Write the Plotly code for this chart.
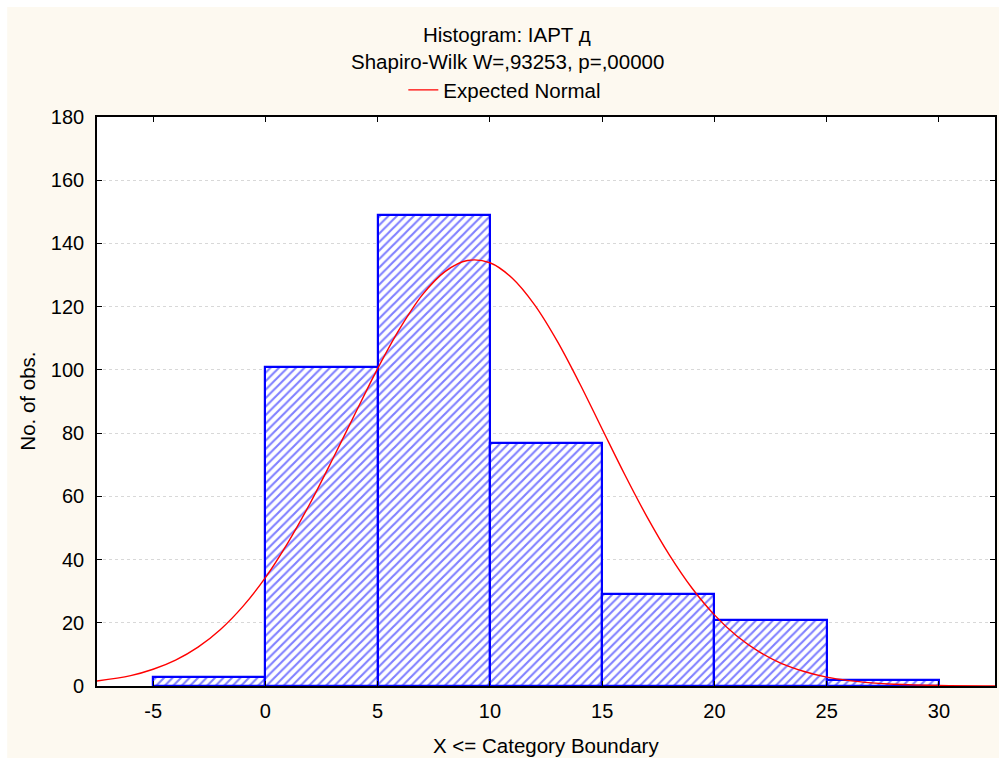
import plotly.graph_objects as go

# ---- data ----
bin_left = [-5, 0, 5, 10, 15, 20, 25]
bin_width = 5
counts = [3, 101, 149, 77, 29, 21, 2]

curve_x = [-7.5, -6, -5, -4, -3, -2, -1, 0, 1, 2, 3, 4, 5, 6, 7, 8, 9, 10, 11, 12,
           13, 14, 15, 16, 17, 18, 19, 20, 21, 22, 23, 24, 25, 26, 27, 28, 30, 32.5]
curve_y = [1.6, 3.3, 5.3, 8.2, 12.3, 17.9, 25.2, 34.3, 45.3, 57.9, 71.8, 86.2, 100.4,
           113.2, 123.8, 131.1, 134.6, 133.9, 129.0, 120.5, 109.1, 95.7, 81.3, 67.0,
           53.5, 41.4, 31.0, 22.5, 15.8, 10.8, 7.1, 4.6, 2.8, 1.7, 1.0, 0.56, 0.16, 0.03]

x_ticks = [-5, 0, 5, 10, 15, 20, 25, 30]
y_ticks = [0, 20, 40, 60, 80, 100, 120, 140, 160, 180]

title = "Histogram: IAPT д"
subtitle = "Shapiro-Wilk W=,93253, p=,00000"
x_title = "X <= Category Boundary"
y_title = "No. of obs."

FONT = "Liberation Sans, Arial, sans-serif"
CREAM = "#FDF9F0"
TXT = 20.5
TICK = 20

centers = [b + bin_width / 2 for b in bin_left]

fig = go.Figure()
fig.add_trace(go.Bar(
    x=centers, y=counts, width=bin_width,
    marker=dict(color="white",
                line=dict(color="#0000FF", width=2.2),
                pattern=dict(shape="/", fgcolor="#0000FF", bgcolor="white",
                             size=6, solidity=0.35)),
    showlegend=False, hoverinfo="skip",
))
fig.add_trace(go.Scatter(
    x=curve_x, y=curve_y, mode="lines", name="Expected Normal",
    line=dict(color="#FF0000", width=1.4, shape="spline"),
))

L, R, T, B = 97, 4, 117, 72
W, H = 1001, 758
pw = W - L - R
ph = H - T - B

def px2x(p):
    return (p - L) / pw

def px2y(p):
    return (H - B - p) / ph

fig.update_layout(
    width=W, height=H,
    margin=dict(l=L, r=R, t=T, b=B),
    paper_bgcolor="white",
    plot_bgcolor="white",
    font=dict(family=FONT, size=TXT, color="black"),
    bargap=0,
    showlegend=True,
    legend=dict(orientation="h", x=px2x(404), xanchor="left", y=px2y(90),
                yanchor="middle", bgcolor="rgba(0,0,0,0)",
                font=dict(family=FONT, size=TXT)),
    shapes=[
        dict(type="rect", xref="paper", yref="paper", layer="below",
             x0=px2x(7), x1=px2x(1001), y0=px2y(758), y1=px2y(7),
             fillcolor=CREAM, line=dict(width=0)),
        dict(type="rect", xref="paper", yref="paper", layer="below",
             x0=0, x1=1, y0=0, y1=1, fillcolor="white", line=dict(width=0)),
    ],
    annotations=[
        dict(text=title, xref="paper", yref="paper", x=px2x(508), y=px2y(34),
             showarrow=False, xanchor="center", yanchor="middle",
             font=dict(family=FONT, size=TXT)),
        dict(text=subtitle, xref="paper", yref="paper", x=px2x(508), y=px2y(61),
             showarrow=False, xanchor="center", yanchor="middle",
             font=dict(family=FONT, size=TXT)),
        dict(text=x_title, xref="paper", yref="paper", x=px2x(547), y=px2y(745),
             showarrow=False, xanchor="center", yanchor="middle",
             font=dict(family=FONT, size=TXT)),
        dict(text=y_title, xref="paper", yref="paper", x=px2x(27), y=0.5,
             showarrow=False, xanchor="center", yanchor="middle", textangle=-90,
             font=dict(family=FONT, size=TXT)),
    ],
)
fig.update_xaxes(
    range=[-7.5, 32.5], tickvals=x_ticks, ticktext=[str(v) for v in x_ticks],
    showline=True, linecolor="black", linewidth=1.6, mirror="ticks",
    ticks="inside", ticklen=5, tickcolor="black", ticklabelstandoff=6,
    tickfont=dict(family=FONT, size=TICK),
    showgrid=False, zeroline=False,
)
fig.update_yaxes(
    range=[0, 180], tickvals=y_ticks, ticktext=[str(v) for v in y_ticks],
    showline=True, linecolor="black", linewidth=1.6, mirror="ticks",
    ticks="inside", ticklen=5, tickcolor="black", ticklabelstandoff=7,
    tickfont=dict(family=FONT, size=TICK),
    showgrid=True, gridcolor="#D8D8D8", griddash="dot", gridwidth=1,
    zeroline=False,
)

fig.write_html("out.html", config={"displayModeBar": False},
               post_script="document.body.style.margin='0px';")
